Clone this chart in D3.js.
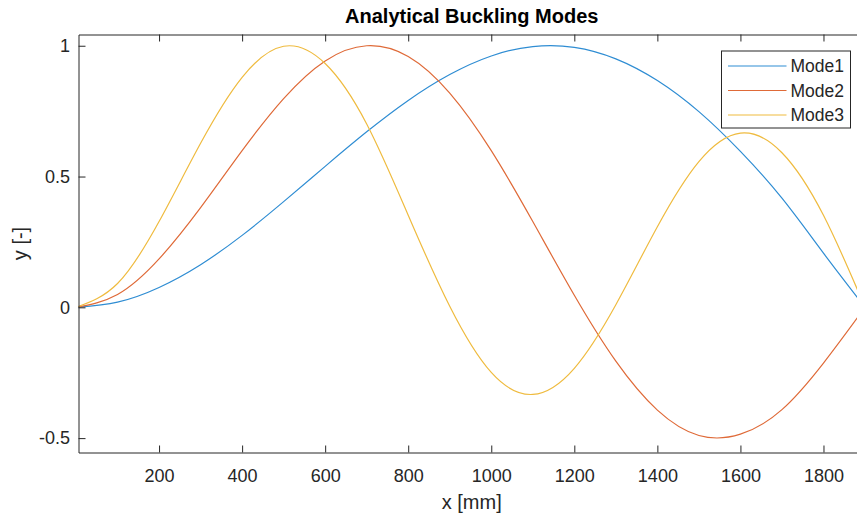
<!DOCTYPE html>
<html>
<head>
<meta charset="utf-8">
<script src="https://cdn.jsdelivr.net/npm/d3@7"></script>
<style>
  body { margin: 0; background: #fff; }
  svg { display: block; font-family: "Liberation Sans", Arial, Helvetica, sans-serif; }
  .axis text { fill: #262626; font-size: 18px; }
  .axis path, .axis line { stroke: #262626; stroke-width: 1; }
</style>
</head>
<body>
<svg id="chart" width="857" height="518"></svg>
<script>
// values
const xValues = [0, 100, 200, 300, 400, 500, 600, 700, 800, 900, 1000,
  1100, 1200, 1300, 1400, 1500, 1600, 1700, 1800, 1900];
const mode1 = [0, 0.020, 0.076, 0.163, 0.275, 0.404, 0.539, 0.671, 0.791, 0.890, 0.961,
  0.997, 0.994, 0.950, 0.867, 0.748, 0.596, 0.417, 0.207, 0];
const mode2 = [0, 0.049, 0.185, 0.381, 0.599, 0.798, 0.942, 1.000, 0.959, 0.819, 0.599,
  0.328, 0.046, -0.206, -0.393, -0.490, -0.485, -0.391, -0.213, 0];
const mode3 = [0, 0.091, 0.328, 0.627, 0.879, 0.998, 0.932, 0.701, 0.352, 0.004, -0.249,
  -0.333, -0.233, 0.010, 0.308, 0.557, 0.666, 0.591, 0.352, 0];

const seriesNames = ["Mode1", "Mode2", "Mode3"];
const seriesValues = [mode1, mode2, mode3];
const colors = ["#2f8dd3", "#df6a38", "#efbb3f"];

const xTicks = [200, 400, 600, 800, 1000, 1200, 1400, 1600, 1800];
const yTicks = [-0.5, 0, 0.5, 1];

const svg = d3.select("#chart");

const plotLeft = 78.5, plotRight = 865, plotTop = 34.5, plotBottom = 452.5;
const x = d3.scaleLinear().domain([6, 1900]).range([plotLeft, plotRight]);
const y = d3.scaleLinear().domain([-0.555, 1.043]).range([plotBottom, plotTop]);

svg.append("defs").append("clipPath").attr("id", "plotClip")
  .append("rect")
  .attr("x", plotLeft).attr("y", plotTop)
  .attr("width", plotRight - plotLeft).attr("height", plotBottom - plotTop);

// lines
const line = d3.line()
  .x(function (d) { return x(d[0]); })
  .y(function (d) { return y(d[1]); })
  .curve(d3.curveNatural);

svg.append("g")
  .attr("clip-path", "url(#plotClip)")
  .selectAll("path.mode")
  .data(seriesValues)
  .enter()
  .append("path")
  .classed("mode", true)
  .attr("fill", "none")
  .attr("stroke", function (d, i) { return colors[i]; })
  .attr("stroke-width", 1.2)
  .attr("d", function (vals) {
    return line(xValues.map(function (xv, j) { return [xv, vals[j]]; }));
  });

// axes (ticks inward, box on)
svg.append("g")
  .attr("class", "axis")
  .attr("transform", "translate(0," + plotBottom + ")")
  .call(d3.axisBottom(x).tickValues(xTicks).tickSizeInner(-7).tickSizeOuter(0).tickPadding(17)
    .tickFormat(function (d) { return String(d); }));

svg.append("g")
  .attr("class", "axis")
  .attr("transform", "translate(0," + plotTop + ")")
  .call(d3.axisTop(x).tickValues(xTicks).tickSizeInner(-7).tickSizeOuter(0).tickFormat(""));

svg.append("g")
  .attr("class", "axis")
  .attr("transform", "translate(" + plotLeft + ",0)")
  .call(d3.axisLeft(y).tickValues(yTicks).tickSizeInner(-7).tickSizeOuter(0).tickPadding(8.5)
    .tickFormat(function (d) { return String(d); }));

svg.append("g")
  .attr("class", "axis")
  .attr("transform", "translate(" + plotRight + ",0)")
  .call(d3.axisRight(y).tickValues(yTicks).tickSizeInner(-7).tickSizeOuter(0).tickFormat(""));

// title and labels
svg.append("text")
  .attr("x", (plotLeft + plotRight) / 2)
  .attr("y", 23)
  .attr("text-anchor", "middle")
  .attr("font-size", 20)
  .attr("font-weight", "bold")
  .attr("fill", "#000")
  .text("Analytical Buckling Modes");

svg.append("text")
  .attr("x", (plotLeft + plotRight) / 2)
  .attr("y", 509)
  .attr("text-anchor", "middle")
  .attr("font-size", 20)
  .attr("fill", "#262626")
  .text("x [mm]");

svg.append("text")
  .attr("transform", "translate(27," + (plotTop + plotBottom) / 2 + ") rotate(-90)")
  .attr("text-anchor", "middle")
  .attr("font-size", 20)
  .attr("fill", "#262626")
  .text("y [-]");

// legend
const legend = svg.append("g").attr("transform", "translate(721.5,51)");
legend.append("rect")
  .attr("width", 129)
  .attr("height", 77)
  .attr("fill", "#fff")
  .attr("stroke", "#262626")
  .attr("stroke-width", 1);

const items = legend.selectAll("g.item")
  .data(seriesNames)
  .enter()
  .append("g")
  .classed("item", true)
  .attr("transform", function (d, i) { return "translate(0," + (15 + i * 24.5) + ")"; });

items.append("line")
  .attr("x1", 6.5).attr("x2", 65)
  .attr("stroke", function (d, i) { return colors[i]; })
  .attr("stroke-width", 1.2);

items.append("text")
  .attr("x", 69)
  .attr("dy", "0.35em")
  .attr("font-size", 17.5)
  .attr("fill", "#262626")
  .text(function (d) { return d; });
</script>
</body>
</html>
